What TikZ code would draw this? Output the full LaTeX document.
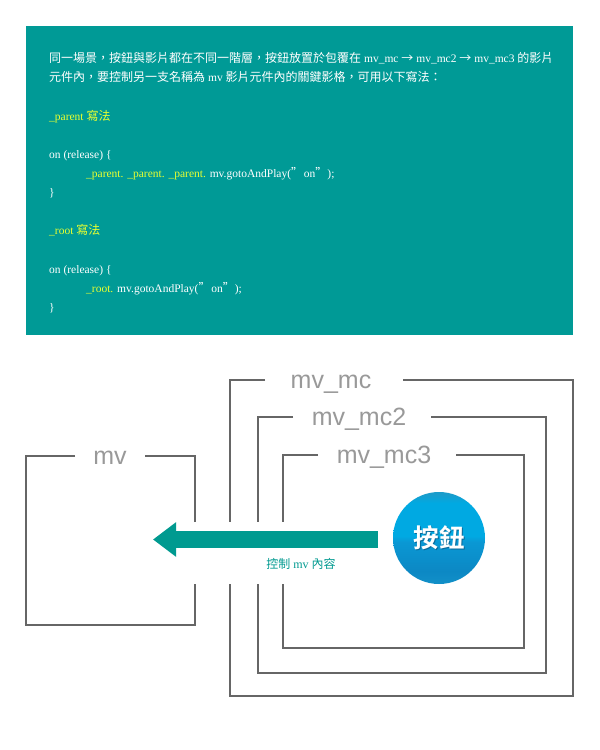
\documentclass[tikz,border=0pt]{standalone}
\usepackage{fontspec}
\setmainfont{Liberation Serif}
\setsansfont{Liberation Sans}
\newfontfamily\cjk{Noto Sans CJK TC}
\newfontfamily\cjkbold{Noto Sans CJK TC Bold}
\usetikzlibrary{arrows.meta}
\definecolor{panel}{HTML}{009A96}
\definecolor{arrowteal}{HTML}{009A90}
\definecolor{frame}{HTML}{666666}
\definecolor{labelgray}{HTML}{999999}
\definecolor{keyword}{HTML}{E8FF30}
\definecolor{btop}{HTML}{1A9CCB}
\definecolor{bhigh}{HTML}{00A9E2}
\definecolor{bmid}{HTML}{0A98D4}
\definecolor{blow}{HTML}{0C88C4}
\definecolor{bbot}{HTML}{1290C8}
\definecolor{glyphshade}{HTML}{0A6A9A}
\newcommand{\zh}[1]{{\cjk\fontsize{12}{13}\selectfont #1}}
\newcommand{\kw}[1]{\textcolor{keyword}{#1}}
% full-width punctuation
\newcommand{\fwc}{\char"FF0C\relax}
\newcommand{\fwk}{\char"FF1A\relax}
\pgfdeclareverticalshading{buttongrad}{100bp}{
  color(0bp)=(bbot);color(25bp)=(bbot);color(32bp)=(blow);color(48bp)=(bmid);color(51bp)=(bhigh);color(69bp)=(bhigh);color(74bp)=(btop);color(100bp)=(btop)}
\tikzset{
  codeline/.style={anchor=base west,inner sep=0pt,text=white,font=\fontsize{11.5}{13}\selectfont},
  framepath/.style={draw=frame,line width=2.4pt,line cap=butt,line join=miter},
  boxlabel/.style={anchor=base,text=labelgray,inner sep=0pt,font=\sffamily\fontsize{25}{27}\selectfont},
}
\begin{document}
\begin{tikzpicture}[x=1pt,y=-1pt]
\useasboundingbox (0,0) rectangle (600,750);
\fill[white] (0,0) rectangle (600,750);

% code panel
\fill[panel] (26,26) rectangle (573,335);
\node[codeline] (l1) at (49,62) {\zh{同一場景\fwc 按鈕與影片都在不同一階層\fwc 按鈕放置於包覆在} mv\_mc \zh{→} mv\_mc2 \zh{→} mv\_mc3 \zh{的影片}};
\node[codeline] (l2) at (49,81) {\zh{元件內\fwc 要控制另一支名稱為} mv \zh{影片元件內的關鍵影格\fwc 可用以下寫法\fwk}};
\node[codeline] (l3) at (49,120) {\kw{\_parent \zh{寫法}}};
\node[codeline] (l4) at (49,158) {on (release) \{};
\node[codeline] (l5) at (86,177) {\kw{\_parent. \_parent. \_parent.} mv.gotoAndPlay(\zh{”}\hspace{-2pt} on\zh{”});};
\node[codeline] (l6) at (49,196) {\}};
\node[codeline] (l7) at (49,234) {\kw{\_root \zh{寫法}}};
\node[codeline] (l8) at (49,273) {on (release) \{};
\node[codeline] (l9) at (86,292) {\kw{\_root.} mv.gotoAndPlay(\zh{”}\hspace{-2pt} on\zh{”});};
\node[codeline] (l10) at (49,311) {\}};

% open-topped clip frames; each gap leaves room for its label and the arrow
\draw[framepath] (75,456) -- (26,456) -- (26,625) -- (195,625) -- (195,584)
  (195,522) -- (195,456) -- (145,456);
\draw[framepath] (265,380) -- (230,380) -- (230,522) (230,584) -- (230,696) -- (573,696) -- (573,380) -- (403,380);
\draw[framepath] (293,417) -- (258,417) -- (258,522) (258,584) -- (258,673) -- (546,673) -- (546,417) -- (431,417);
\draw[framepath] (318,455) -- (283,455) -- (283,522) (283,584) -- (283,648) -- (524,648) -- (524,455) -- (456,455);

\node[boxlabel] (mv) at (110,464) {mv};
\node[boxlabel] (mc) at (331,388) {mv\_mc};
\node[boxlabel] (mctwo) at (359,425) {mv\_mc2};
\node[boxlabel] (mcthree) at (384,463) {mv\_mc3};

% round button, with a dark offset behind its white lettering
\node[circle,minimum size=92pt,inner sep=0pt,shading=buttongrad,text=white,
  font=\cjkbold\fontsize{25.5}{27}\selectfont] (button) at (439,538)
  {\makebox[0pt][l]{\hspace{1pt}\raisebox{-1.2pt}{\textcolor{glyphshade}{按鈕}}}按鈕};

% control arrow and caption
\coordinate (tail) at (378,539.5);
\coordinate (head) at (153,539.5);
\draw[arrowteal,line width=17pt,-{Triangle[length=23pt,width=33pt]}] (tail) -- (head);
\node[inner sep=0pt,text=arrowteal,font=\fontsize{12}{14}\selectfont] (caption) at (301,564) {\zh{控制} mv \zh{內容}};
\end{tikzpicture}
\end{document}
